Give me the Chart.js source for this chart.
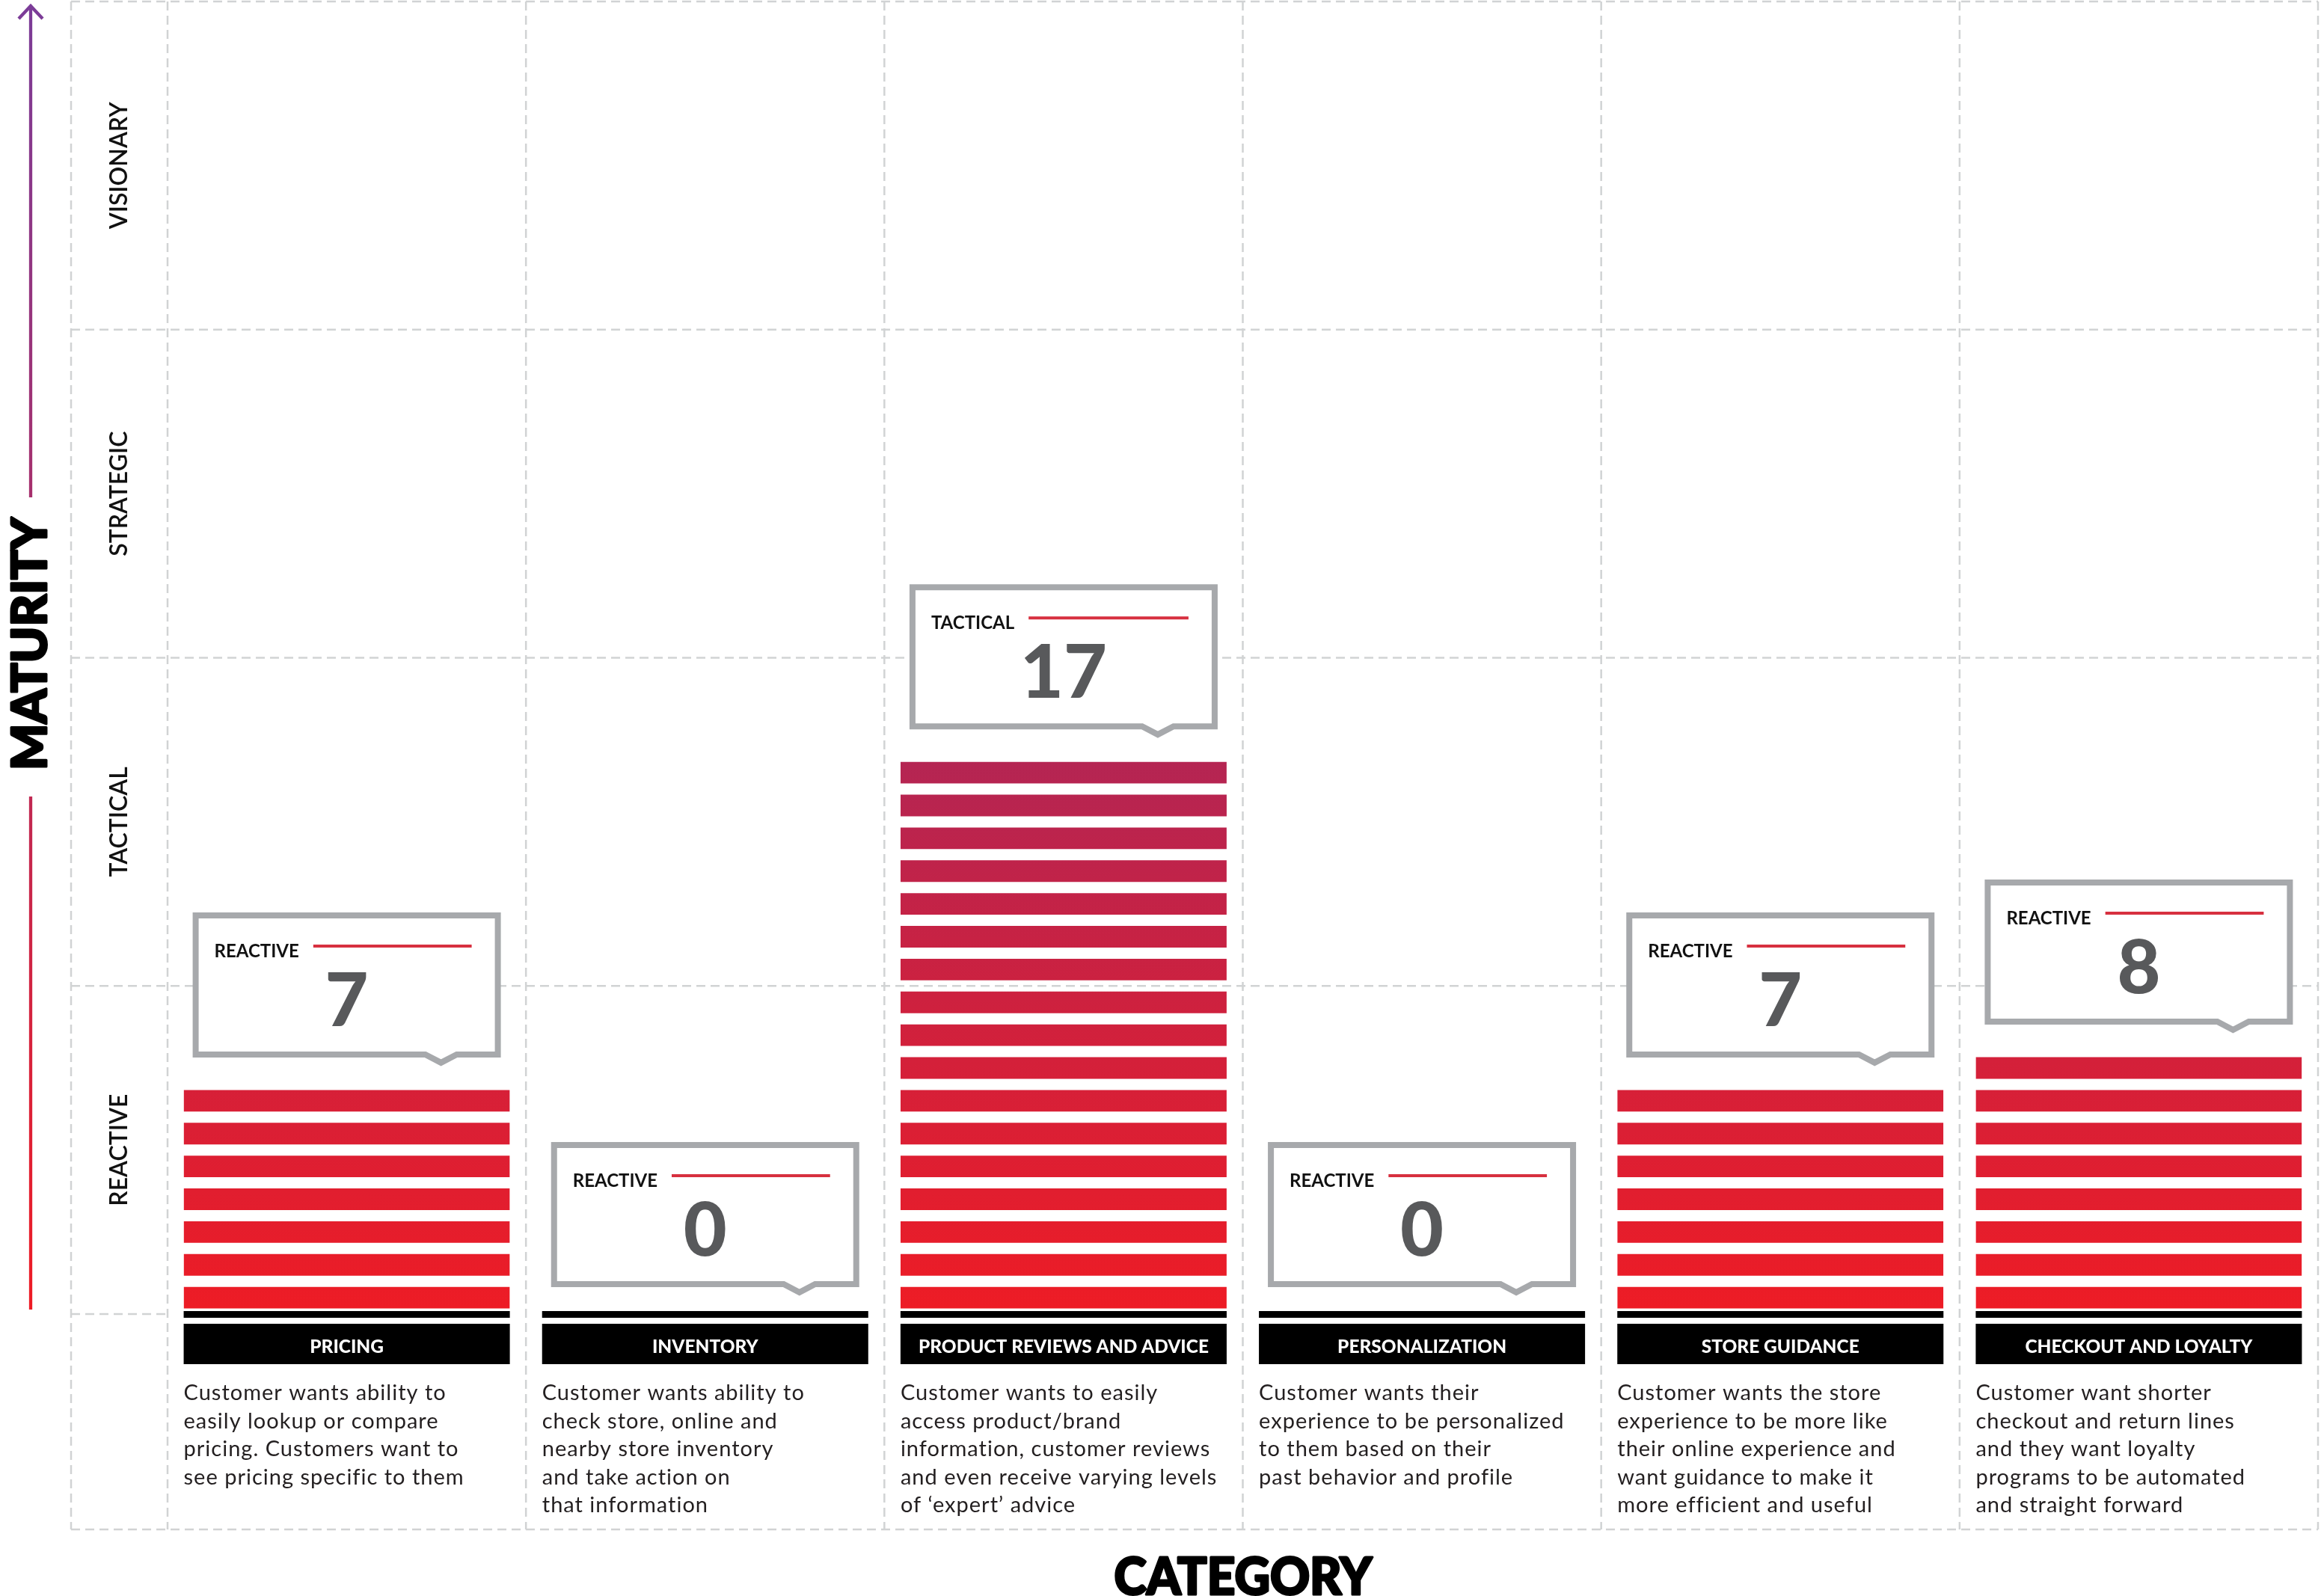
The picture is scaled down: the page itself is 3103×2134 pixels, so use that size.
<!DOCTYPE html>
<html>
<head>
<meta charset="utf-8">
<script src="https://cdn.jsdelivr.net/npm/chart.js@4/dist/chart.umd.min.js"></script>
<style>
html,body{margin:0;padding:0;background:#ffffff;}
canvas{display:block;}
</style>
</head>
<body>
<canvas id="c" width="3103" height="2134"></canvas>
<script>
// ---------------- DATA ----------------
const categories = ['PRICING','INVENTORY','PRODUCT REVIEWS AND ADVICE','PERSONALIZATION','STORE GUIDANCE','CHECKOUT AND LOYALTY'];
const values = [7, 0, 17, 0, 7, 8];
const valueLevels = ['REACTIVE','REACTIVE','TACTICAL','REACTIVE','REACTIVE','REACTIVE'];
const maturityLevels = ['REACTIVE','TACTICAL','STRATEGIC','VISIONARY'];
const maturityTicks = [0, 10, 20, 30, 40];
const descriptions = [
  ['Customer wants ability to','easily lookup or compare','pricing. Customers want to','see pricing specific to them'],
  ['Customer wants ability to','check store, online and','nearby store inventory','and take action on','that information'],
  ['Customer wants to easily','access product/brand','information, customer reviews','and even receive varying levels','of \u2018expert\u2019 advice'],
  ['Customer wants their','experience to be personalized','to them based on their','past behavior and profile'],
  ['Customer wants the store','experience to be more like','their online experience and','want guidance to make it','more efficient and useful'],
  ['Customer want shorter','checkout and return lines','and they want loyalty','programs to be automated','and straight forward']
];
const yAxisTitle = 'MATURITY';
const xAxisTitle = 'CATEGORY';

// ---------------- STYLE ----------------
const BAR_FRACTION = 0.91;
const GRID_COLOR = '#D1D3D4';
const CALLOUT_BORDER = '#A7A9AC';
const NUMBER_COLOR = '#58595B';
const RULE_RED = '#D7303F';
const TEXT_DARK = '#231F20';
const FONT = 'Lato, "Open Sans", sans-serif';

const maxVal = Math.max(...values);

function stripeColor(context) {
  const chart = context.chart;
  if (!chart.chartArea) return '#ED1C24';
  const y = chart.scales.y;
  const g = chart.ctx.createLinearGradient(0, y.getPixelForValue(0), 0, y.getPixelForValue(maxVal));
  g.addColorStop(0, '#EE1C25');
  g.addColorStop(1, '#B42553');
  return g;
}

// one stacked dataset per unit stripe
const stripeSets = [];
for (let k = 1; k <= maxVal; k++) {
  stripeSets.push({
    label: 'unit ' + k,
    data: values.map(v => (v >= k ? 1 : 0)),
    backgroundColor: stripeColor,
    borderColor: 'rgba(0,0,0,0)',
    borderWidth: {top: 7.5, bottom: 7.5, left: 0, right: 0},
    borderSkipped: false,
    categoryPercentage: 1,
    barPercentage: BAR_FRACTION
  });
}

function fitText(ctx, text, x, y, targetW, strokeW) {
  const w = ctx.measureText(text).width;
  const s = targetW ? targetW / w : 1;
  ctx.save();
  ctx.translate(x, y);
  ctx.scale(s, 1);
  ctx.fillText(text, 0, 0);
  if (strokeW) {
    ctx.lineWidth = strokeW;
    ctx.lineJoin = 'round';
    ctx.strokeStyle = ctx.fillStyle;
    ctx.strokeText(text, 0, 0);
  }
  ctx.restore();
}

function line(ctx, x1, y1, x2, y2) {
  ctx.beginPath(); ctx.moveTo(x1, y1); ctx.lineTo(x2, y2); ctx.stroke();
}

const decor = {
  id: 'decor',
  beforeDatasetsDraw(chart) {
    const ctx = chart.ctx, a = chart.chartArea, x = chart.scales.x, y = chart.scales.y;
    const colW = x.getPixelForValue(1) - x.getPixelForValue(0);
    const frameLeft = 95, frameBottom = 2045;

    // dashed grid
    ctx.save();
    ctx.strokeStyle = GRID_COLOR;
    ctx.lineWidth = 2.5;
    ctx.setLineDash([12, 7]);
    const xs = [frameLeft, a.left];
    categories.forEach((c, i) => xs.push(x.getPixelForValue(i) + colW / 2));
    xs.forEach(xx => line(ctx, xx, a.top, xx, frameBottom));
    maturityTicks.forEach(t => {
      const yy = y.getPixelForValue(t);
      line(ctx, frameLeft, yy, t === 0 ? a.left : a.right, yy);
    });
    line(ctx, frameLeft, frameBottom, a.right, frameBottom);
    ctx.restore();

    // maturity level labels (rotated)
    ctx.save();
    ctx.fillStyle = '#111111';
    ctx.font = '600 32px ' + FONT;
    ctx.textAlign = 'center';
    ctx.textBaseline = 'alphabetic';
    maturityLevels.forEach((lab, k) => {
      const cy = (y.getPixelForValue(maturityTicks[k]) + y.getPixelForValue(maturityTicks[k + 1])) / 2;
      ctx.save();
      ctx.translate(170, cy);
      ctx.rotate(-Math.PI / 2);
      ctx.fillText(lab, 0, 0);
      ctx.restore();
    });
    ctx.restore();

    // MATURITY arrow + title
    const ax = 41, tipY = 7, botY = 1751, titleCy = 861, titleLen = 338;
    ctx.save();
    const g = ctx.createLinearGradient(0, tipY, 0, botY);
    g.addColorStop(0, '#7B3C98');
    g.addColorStop(1, '#EE1C25');
    ctx.strokeStyle = g;
    ctx.lineWidth = 4.3;
    line(ctx, ax, tipY + 2, ax, titleCy - titleLen / 2 - 27);
    line(ctx, ax, titleCy + titleLen / 2 + 35, ax, botY);
    ctx.lineJoin = 'miter';
    ctx.beginPath();
    ctx.moveTo(ax - 16, tipY + 18);
    ctx.lineTo(ax, tipY + 1);
    ctx.lineTo(ax + 16, tipY + 18);
    ctx.stroke();
    ctx.fillStyle = '#000000';
    ctx.font = '900 65px ' + FONT;
    ctx.textAlign = 'left';
    ctx.textBaseline = 'alphabetic';
    ctx.translate(62, titleCy);
    ctx.rotate(-Math.PI / 2);
    fitText(ctx, yAxisTitle, -titleLen / 2, 0, titleLen, 3);
    ctx.restore();
  },
  afterDatasetsDraw(chart) {
    const ctx = chart.ctx, a = chart.chartArea, x = chart.scales.x, y = chart.scales.y;
    const colW = x.getPixelForValue(1) - x.getPixelForValue(0);
    const bw = colW * BAR_FRACTION;
    const base = y.getPixelForValue(0);

    // label condense factor from longest label
    ctx.save();
    ctx.font = '900 25px ' + FONT;
    const longest = categories.reduce((m, c) => Math.max(m, ctx.measureText(c).width), 0);
    const labelScale = Math.min(1, 388 / longest);
    ctx.restore();

    values.forEach((v, i) => {
      const cx = x.getPixelForValue(i);
      const L = cx - bw / 2;
      ctx.save();
      // black base rule and label box
      ctx.fillStyle = '#000000';
      ctx.fillRect(L, base - 4, bw, 9);
      ctx.fillRect(L, base + 13, bw, 54);
      ctx.fillStyle = '#FFFFFF';
      ctx.font = '900 25px ' + FONT;
      ctx.textAlign = 'left';
      ctx.textBaseline = 'alphabetic';
      const lw = ctx.measureText(categories[i]).width * labelScale;
      fitText(ctx, categories[i], cx - lw / 2, base + 52, lw);
      // description
      ctx.fillStyle = TEXT_DARK;
      ctx.font = '400 29px ' + FONT;
      ctx.letterSpacing = '1px';
      descriptions[i].forEach((t, j) => ctx.fillText(t, L, base + 115 + j * 37.5));
      ctx.letterSpacing = '0px';

      // callout
      const cw = 412, chh = 194;
      const B = y.getPixelForValue(v) - 36;
      const T = B - chh;
      const CL = cx - cw / 2, CR = CL + cw;
      const nx = CR - 80;
      ctx.beginPath();
      ctx.moveTo(CL + 4, T + 4);
      ctx.lineTo(CR - 4, T + 4);
      ctx.lineTo(CR - 4, B - 4);
      ctx.lineTo(nx + 21, B - 4);
      ctx.lineTo(nx, B + 7);
      ctx.lineTo(nx - 21, B - 4);
      ctx.lineTo(CL + 4, B - 4);
      ctx.closePath();
      ctx.fillStyle = '#FFFFFF';
      ctx.fill();
      ctx.lineWidth = 8;
      ctx.lineJoin = 'miter';
      ctx.strokeStyle = CALLOUT_BORDER;
      ctx.stroke();
      // level label + red rule
      ctx.fillStyle = '#111111';
      ctx.font = '700 24px ' + FONT;
      ctx.textAlign = 'left';
      ctx.fillText(valueLevels[i], CL + 29, T + 60);
      const tw = ctx.measureText(valueLevels[i]).width;
      ctx.strokeStyle = RULE_RED;
      ctx.lineWidth = 4;
      line(ctx, CL + 29 + tw + 19, T + 45, CR - 39, T + 45);
      // number
      ctx.fillStyle = NUMBER_COLOR;
      ctx.font = '900 100px ' + FONT;
      ctx.textAlign = 'left';
      const nw = ctx.measureText(String(v)).width;
      ctx.fillText(String(v), cx - nw / 2, T + 152);
      ctx.restore();
    });

    // CATEGORY title
    ctx.save();
    ctx.fillStyle = '#000000';
    ctx.font = '900 68px ' + FONT;
    ctx.textAlign = 'left';
    ctx.textBaseline = 'alphabetic';
    fitText(ctx, xAxisTitle, (a.left + a.right) / 2 - 172, 2132, 345, 3);
    ctx.restore();
  }
};

new Chart(document.getElementById('c'), {
  type: 'bar',
  data: { labels: categories, datasets: stripeSets },
  options: {
    responsive: false,
    animation: false,
    devicePixelRatio: 1,
    layout: { padding: { left: 224, right: 4, top: 2, bottom: 377 } },
    plugins: { legend: { display: false }, tooltip: { enabled: false } },
    scales: {
      x: { type: 'category', display: false, stacked: true, offset: true },
      y: { type: 'linear', display: false, stacked: true, min: maturityTicks[0], max: maturityTicks[maturityTicks.length - 1] }
    }
  },
  plugins: [decor]
});
</script>
</body>
</html>
